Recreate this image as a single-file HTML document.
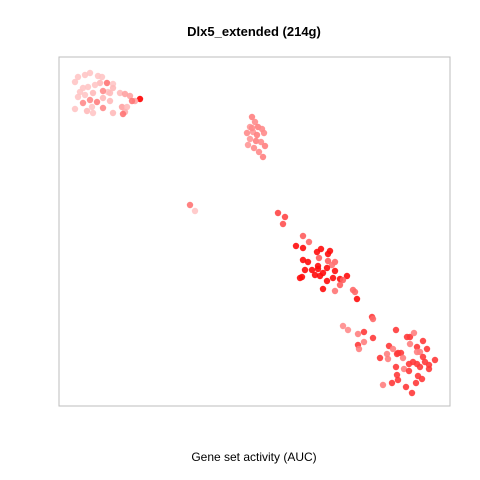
<!DOCTYPE html>
<html><head><meta charset="utf-8"><style>
body{margin:0;background:#fff;}
svg{display:block;font-family:"Liberation Sans",sans-serif;}
</style></head><body>
<svg id="chart" width="480" height="480">
<rect width="480" height="480" fill="#fff"/>
<text x="254" y="36" text-anchor="middle" font-size="13" font-weight="bold">Dlx5_extended (214g)</text>
<rect x="59" y="57" width="391" height="349" fill="none" stroke="#bdbdbd" stroke-width="1"/>
<g id="points"></g>
<text x="254" y="461" text-anchor="middle" font-size="12">Gene set activity (AUC)</text>
</svg>
<script>
// t-SNE coordinates per cell
const xs1=[-17.9,-17.6,-16.9,-16.4,-15.6,-15.2,-15.4,-14.7,-14.1,-14.1,-15.9,-16.6,-17.1,-17.4,-16.9,-17.6,-16.1,-14.6,-14.4,-15.1,-13.4,-12.9,-12.4,-11.4,-11.9,-12.2,-16.4,-15.7,-15.1,-14.4,-17.1,-16.2,-17.9,-16.7,-16.1,-15.1,-14.1,-13.2,-12.7,-12.9,-13.1];
const ys1=[14.9,15.4,15.6,15.8,15.5,15.4,14.8,14.8,14.7,14.3,14.6,14.4,14.3,13.9,13.6,13.4,13.8,13.9,13.8,14.0,13.8,13.7,13.5,13.2,13.0,13.0,13.1,12.9,13.3,13.0,12.8,12.4,12.2,12.0,11.8,12.3,11.8,12.4,12.4,11.9,11.7];
const auc1=[0.15,0.15,0.15,0.15,0.15,0.15,0.2,0.5,0.15,0.2,0.15,0.15,0.15,0.15,0.15,0.15,0.2,0.15,0.2,0.4,0.2,0.3,0.3,1.0,0.3,0.5,0.4,0.45,0.2,0.2,0.4,0.15,0.15,0.2,0.15,0.4,0.2,0.3,0.2,0.25,0.5];
const xs2=[-0.2,0.1,-0.4,0.4,0.8,-0.7,-0.1,0.3,1.0,-0.4,0.2,0.7,-0.6,1.1,0.0,0.5,0.9,-0.2,-6.4,-5.9];
const ys2=[11.4,10.9,10.4,10.4,10.2,9.8,9.9,9.6,9.8,9.2,9.0,8.9,8.6,8.5,8.3,7.9,7.4,10.3,2.6,2.0];
const auc2=[0.45,0.4,0.35,0.45,0.4,0.4,0.35,0.45,0.4,0.35,0.45,0.4,0.35,0.45,0.4,0.4,0.45,0.4,0.5,0.15];
const xs3=[2.4,3.1,2.9,4.9,5.5,4.2,4.9,6.3,6.7,7.6,7.4,6.5,4.9,5.4,7.4,8.1,7.8,6.4,7.3,5.1,5.8,6.4,8.1,6.9,6.1,6.6,4.8,4.6,7.9,8.6,9.3,7.3,8.6,8.9,6.9,8.1,9.9,10.1,10.3];
const ys3=[1.8,1.4,0.7,-0.5,-1.1,-1.5,-1.7,-2.1,-1.8,-2.0,-2.3,-2.7,-2.9,-3.1,-3.0,-3.1,-3.4,-3.5,-3.7,-3.9,-3.9,-3.8,-4.0,-4.2,-4.4,-4.5,-4.6,-4.7,-4.7,-4.8,-4.5,-5.0,-5.4,-4.9,-5.8,-6.0,-5.9,-6.1,-6.8];
const auc3=[0.7,0.7,0.65,0.6,0.55,0.95,0.95,0.95,0.95,0.95,0.95,0.6,0.95,0.95,0.6,0.55,0.5,0.95,0.95,0.95,0.95,0.95,0.95,0.95,0.95,0.95,0.95,0.95,0.95,0.95,0.95,0.95,0.6,0.6,0.95,0.5,0.55,0.55,0.95];
const xs4=[11.8,11.9,8.9,9.4,10.4,11.0,11.0,11.9,10.4,10.5,14.2,15.3,15.6,16.0,15.6,16.9,13.5,13.9,14.4,14.7,13.3,14.3,12.6,13.4,14.9,16.3,16.6,16.3,17.3,16.9,15.9,15.5,16.3,17.1,17.5,18.1,16.6,17.5,15.0,15.5,14.2,14.3,14.4,13.8,12.9,16.4,16.8,16.2,15.2,15.8];
const ys4=[-8.6,-8.8,-9.5,-9.9,-10.3,-10.1,-11.1,-10.7,-11.4,-11.8,-9.9,-10.6,-10.6,-10.2,-11.3,-11.0,-11.5,-11.8,-12.2,-12.2,-12.3,-12.3,-12.7,-12.8,-12.7,-11.6,-12.1,-12.1,-11.8,-12.6,-13.1,-13.3,-13.3,-13.1,-13.4,-12.9,-13.6,-13.8,-13.8,-14.0,-13.6,-14.4,-14.9,-15.2,-15.4,-14.5,-14.8,-15.2,-15.6,-16.2];
const auc4=[0.75,0.55,0.4,0.4,0.45,0.75,0.45,0.75,0.75,0.45,0.75,0.75,0.75,0.45,0.45,0.75,0.75,0.45,0.75,0.75,0.45,0.75,0.75,0.45,0.45,0.75,0.45,0.45,0.75,0.75,0.75,0.75,0.75,0.75,0.75,0.75,0.75,0.75,0.45,0.75,0.75,0.75,0.75,0.75,0.45,0.75,0.75,0.75,0.75,0.75];
const xDomain=[-19.5,19.6], yDomain=[-17.5,17.4];
const xScale=v=>59+(v-xDomain[0])/(xDomain[1]-xDomain[0])*391;
const yScale=v=>406-(v-yDomain[0])/(yDomain[1]-yDomain[0])*349;
const color=a=>{const g=Math.round(232*(1-a));return `rgb(255,${g},${g})`;};
const layer=document.getElementById('points');
const NS='http://www.w3.org/2000/svg';
[[xs1,ys1,auc1],[xs2,ys2,auc2],[xs3,ys3,auc3],[xs4,ys4,auc4]].forEach(([xs,ys,au])=>{
  xs.forEach((x,i)=>{
    const c=document.createElementNS(NS,'circle');
    c.setAttribute('cx',xScale(x));
    c.setAttribute('cy',yScale(ys[i]));
    c.setAttribute('r',3.2);
    c.setAttribute('fill',color(au[i]));
    c.setAttribute('fill-opacity',0.9);
    
    
    layer.appendChild(c);
  });
});
</script>
</body></html>
